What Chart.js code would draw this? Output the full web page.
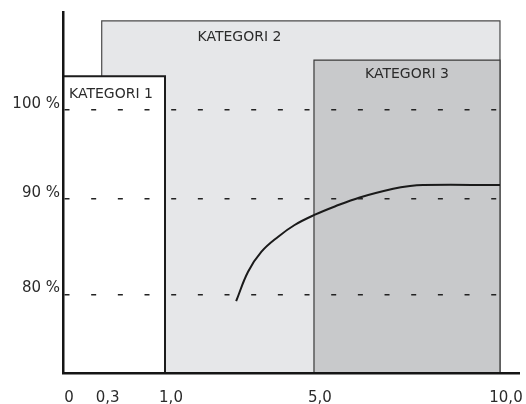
<!DOCTYPE html>
<html>
<head>
<meta charset="utf-8">
<script src="https://cdn.jsdelivr.net/npm/chart.js@4.4.1/dist/chart.umd.min.js"></script>
<style>
  html, body { margin: 0; padding: 0; background: #ffffff; }
  #c { display: block; }
</style>
</head>
<body>
<canvas id="c" width="526" height="404"></canvas>
<script>
// ---- data ----
const categories = ['KATEGORI 1', 'KATEGORI 2', 'KATEGORI 3'];
const catStart = [0, 0.3, 5.0];
const catEnd = [1.0, 10.0, 10.0];
const catTop = [103.8, 110, 105.6];

const curveX = [2.91, 3.23, 3.59, 4.04, 4.48, 5.01, 5.56, 6.23, 7.13, 7.58, 7.93, 10.0];
const curveY = [79.12, 82.36, 84.46, 86.03, 87.25, 88.3, 89.19, 90.14, 91.12, 91.44, 91.55, 91.55];

const xTicks = [0, 0.3, 1.0, 5.0, 10.0];
const xTickLabels = ['0', '0,3', '1,0', '5,0', '10,0'];
const yTicks = [80, 90, 100];
const yTickLabels = ['80 %', '90 %', '100 %'];

const xMin = 0, xMax = 10.5;
const yMin = 70, yMax = 111;

// ---- piecewise-linear scale (schematic axis) ----
class PiecewiseScale extends Chart.LinearScale {
  _frac(v) {
    const b = this.options.breaks;
    let i = 0;
    while (i < b.length - 2 && v > b[i + 1][0]) i++;
    const [v0, f0] = b[i], [v1, f1] = b[i + 1];
    return f0 + (v - v0) / (v1 - v0) * (f1 - f0);
  }
  getPixelForValue(value) {
    if (value === null || value === undefined || isNaN(value)) return NaN;
    return this.getPixelForDecimal(this._frac(value));
  }
  getValueForPixel(pixel) {
    const f = this.getDecimalForPixel(pixel);
    const b = this.options.breaks;
    let i = 0;
    while (i < b.length - 2 && f > b[i + 1][1]) i++;
    const [v0, f0] = b[i], [v1, f1] = b[i + 1];
    return v0 + (f - f0) / (f1 - f0) * (v1 - v0);
  }
}
PiecewiseScale.id = 'piecewise';
PiecewiseScale.defaults = {};
Chart.register(PiecewiseScale);

// ---- styles ----
const rectStyles = [
  { fill: '#ffffff', border: '#1c1c1c', width: 2 },
  { fill: '#e6e7e9', border: '#4a4a4a', width: 1.2 },
  { fill: '#c8c9cb', border: '#3a3a3a', width: 1.2 }
];
const drawOrder = [1, 3, 2]; // cat1 over cat3 over cat2

// dashed reference lines: 17 dashes, then a long gap (lines stop at the boxes' right edge)
const gridDash = [];
for (let k = 0; k < 16; k++) gridDash.push(5, 21.67);
gridDash.push(5, 60);

const datasets = [{
  data: curveX.map((x, i) => ({ x, y: curveY[i] })),
  borderColor: '#1a1a1a',
  borderWidth: 2,
  pointRadius: 0,
  tension: 0.4,
  fill: false,
  order: 0
}];
categories.forEach((c, i) => {
  datasets.push({
    label: c,
    data: [
      { x: catStart[i], y: yMin },
      { x: catStart[i], y: catTop[i] },
      { x: catEnd[i], y: catTop[i] },
      { x: catEnd[i], y: yMin }
    ],
    borderColor: rectStyles[i].border,
    backgroundColor: rectStyles[i].fill,
    borderWidth: rectStyles[i].width,
    pointRadius: 0,
    tension: 0,
    fill: 'start',
    order: drawOrder[i]
  });
});

// ---- category label plugin ----
const catLabelPlugin = {
  id: 'catLabels',
  afterDatasetsDraw(chart, args, opts) {
    const { ctx, scales: { x, y } } = chart;
    ctx.save();
    ctx.fillStyle = opts.color;
    ctx.font = opts.font;
    ctx.textBaseline = 'middle';
    categories.forEach((c, i) => {
      const p = opts.pos[i];
      const yp = y.getPixelForValue(catTop[i]) + p.dy;
      let xp;
      if (p.align === 'left') {
        xp = x.getPixelForValue(catStart[i]) + p.dx;
        ctx.textAlign = 'left';
      } else {
        xp = x.getPixelForValue(p.xv);
        ctx.textAlign = 'center';
      }
      ctx.fillText(c, xp, yp);
    });
    ctx.restore();
  }
};

new Chart(document.getElementById('c'), {
  type: 'line',
  data: { datasets },
  plugins: [catLabelPlugin],
  options: {
    responsive: false,
    animation: false,
    events: [],
    layout: { padding: { top: 12, right: 7, left: 0, bottom: 0 } },
    plugins: {
      legend: { display: false },
      tooltip: { enabled: false },
      catLabels: {
        color: '#2b2b2b',
        font: '14px "DejaVu Sans"',
        pos: [
          { align: 'left', dx: 6, dy: 18 },
          { align: 'center', xv: 3.0, dy: 16 },
          { align: 'center', xv: 7.5, dy: 14 }
        ]
      }
    },
    scales: {
      x: {
        type: 'piecewise',
        min: xMin,
        max: xMax,
        breaks: [[0, 0], [0.3, 0.0849], [1.0, 0.2237], [5.0, 0.5504], [10.0, 0.9583], [10.5, 1]],
        afterBuildTicks: s => { s.ticks = xTicks.map(v => ({ value: v })); },
        afterFit: s => { s.height = 31; s.paddingLeft = 0; s.paddingRight = 0; },
        grid: { display: false, drawTicks: false },
        border: { display: true, color: '#151515', width: 2.5, z: 2 },
        ticks: {
          autoSkip: false,
          maxRotation: 0,
          padding: 16,
          labelOffset: 6,
          color: '#2b2b2b',
          font: { family: 'DejaVu Sans', size: 15 },
          callback: (v, i) => xTickLabels[i]
        }
      },
      y: {
        type: 'piecewise',
        min: yMin,
        max: yMax,
        breaks: [[70, 0], [80, 0.218], [90, 0.4828], [100, 0.7285], [111, 1]],
        afterBuildTicks: s => { s.ticks = yTicks.map(v => ({ value: v })); },
        afterFit: s => { s.width = 63; s.paddingTop = 0; s.paddingBottom = 0; },
        grid: { display: true, drawTicks: false, color: '#222222', lineWidth: 1.5, z: 1 },
        border: { display: true, color: '#151515', width: 2.5, dash: gridDash, z: 2 },
        ticks: {
          autoSkip: false,
          padding: 3,
          labelOffset: -6,
          color: '#2b2b2b',
          font: { family: 'DejaVu Sans', size: 15 },
          callback: (v, i) => yTickLabels[i]
        }
      }
    }
  }
});
</script>
</body>
</html>
